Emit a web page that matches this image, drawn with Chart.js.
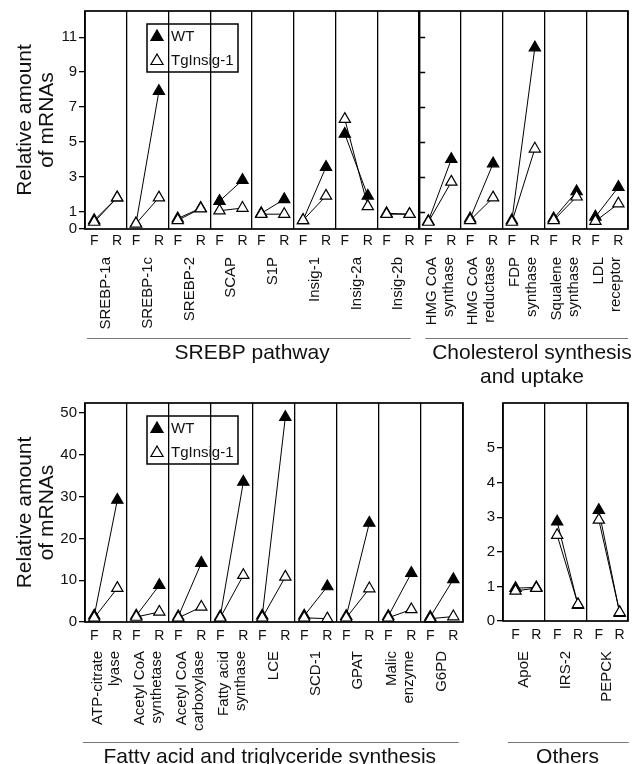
<!DOCTYPE html>
<html>
<head>
<meta charset="utf-8">
<script src="https://cdn.jsdelivr.net/npm/chart.js@4.4.1/dist/chart.umd.min.js"></script>
<style>
  html, body { margin: 0; padding: 0; background: #fff; }
  #wrap { position: relative; width: 641px; height: 764px; overflow: hidden; }
  canvas { position: absolute; }
</style>
</head>
<body>
<div id="wrap">
  <canvas id="topChart" width="641" height="390" style="left:0;top:0"></canvas>
  <canvas id="fatChart" width="480" height="374" style="left:0;top:390px"></canvas>
  <canvas id="otherChart" width="161" height="374" style="left:480px;top:390px"></canvas>
</div>
<script>
const FONT = "'Liberation Sans', Arial, Helvetica, sans-serif"
Chart.defaults.font.family = FONT
Chart.defaults.color = '#111'

// SREBP pathway + cholesterol synthesis (top)
const topGenes = ['SREBP-1a', 'SREBP-1c', 'SREBP-2', 'SCAP', 'S1P', 'Insig-1', 'Insig-2a', 'Insig-2b',
  ['HMG CoA', 'synthase'], ['HMG CoA', 'reductase'], ['FDP', 'synthase'], ['Squalene', 'synthase'], ['LDL', 'receptor']]
const topWtF = [0.5, 0.3, 0.6, 1.6, 0.9, 0.5, 5.45, 0.9, 0.45, 0.6, 0.5, 0.6, 0.7]
const topWtR = [1.8, 7.9, 1.2, 2.8, 1.7, 3.55, 1.9, 0.85, 4.0, 3.75, 10.4, 2.15, 2.4]
const topTgF = [0.4, 0.3, 0.5, 1.05, 0.85, 0.5, 6.3, 0.85, 0.4, 0.5, 0.4, 0.5, 0.45]
const topTgR = [1.8, 1.8, 1.17, 1.2, 0.85, 1.9, 1.3, 0.85, 2.7, 1.8, 4.6, 1.85, 1.45]
const topTicks = [0, 1, 3, 5, 7, 9, 11]

// fatty acid and triglyceride synthesis (bottom left)
const fatGenes = [['ATP-citrate', 'lyase'], ['Acetyl CoA', 'synthetase'], ['Acetyl CoA', 'carboxylase'],
  ['Fatty acid', 'synthase'], 'LCE', 'SCD-1', 'GPAT', ['Malic', 'enzyme'], 'G6PD']
const fatWtF = [1.5, 1.5, 1.3, 1.3, 1.5, 1.5, 1.4, 1.4, 1.2]
const fatWtR = [29.2, 8.8, 14.1, 33.5, 49, 8.5, 23.7, 11.7, 10.2]
const fatTgF = [1, 1.2, 1, 1, 1, 1, 1, 1, 0.8]
const fatTgR = [8.1, 2.4, 3.6, 11.2, 10.8, 0.8, 8, 3.0, 1.3]
const fatTicks = [0, 10, 20, 30, 40, 50]

// others (bottom right)
const otherGenes = ['ApoE', 'IRS-2', 'PEPCK']
const otherWtF = [0.95, 2.87, 3.2]
const otherWtR = [0.97, 0.46, 0.23]
const otherTgF = [0.87, 2.48, 2.92]
const otherTgR = [0.95, 0.48, 0.25]
const otherTicks = [0, 1, 2, 3, 4, 5]

function pairs (f, r, at) {
  const pts = []
  f.forEach((v, i) => {
    pts.push({ x: i + at[0], y: v }, { x: i + at[1], y: r[i] }, { x: i + 0.97, y: null })
  })
  return pts
}

function deco (o) {
  return {
    id: 'deco',
    afterDraw (chart) {
      const { ctx, chartArea: a, scales: { x, y } } = chart
      ctx.save()
      ctx.strokeStyle = '#000'
      ctx.lineWidth = 1.7
      ctx.strokeRect(a.left, a.top, a.right - a.left, a.bottom - a.top)

      // tick marks on the inner axis of the cholesterol block
      if (o.innerAxis != null) {
        const px = x.getPixelForValue(o.innerAxis)
        ctx.lineWidth = 1.3
        ctx.beginPath()
        o.yTicks.forEach(v => {
          if (!v) return
          const py = Math.round(y.getPixelForValue(v)) + 0.5
          ctx.moveTo(px, py)
          ctx.lineTo(px + 6, py)
        })
        ctx.stroke()
      }

      // gene names, rotated
      ctx.fillStyle = '#111'
      ctx.font = '15px ' + FONT
      ctx.textAlign = 'right'
      ctx.textBaseline = 'middle'
      o.genes.forEach((g, i) => {
        const lines = [].concat(g)
        ctx.save()
        ctx.translate(x.getPixelForValue(i + 0.5), a.bottom + o.nameDy)
        ctx.rotate(-Math.PI / 2)
        lines.forEach((t, j) => ctx.fillText(t, 0, (j - (lines.length - 1) / 2) * 17))
        ctx.restore()
      })

      // group brackets
      o.groups.forEach(g => {
        ctx.strokeStyle = '#777'
        ctx.lineWidth = 1
        ctx.beginPath()
        ctx.moveTo(x.getPixelForValue(g.from), a.bottom + o.lineDy + 0.5)
        ctx.lineTo(x.getPixelForValue(g.to), a.bottom + o.lineDy + 0.5)
        ctx.stroke()
        ctx.fillStyle = '#111'
        ctx.font = '21px ' + FONT
        ctx.textAlign = 'center'
        g.text.forEach((t, j) => ctx.fillText(t, x.getPixelForValue(g.mid), a.bottom + o.textDy + j * 24))
      })

      // legend box
      if (o.legend) {
        const bx = a.left + 62
        const by = a.top + 13
        ctx.strokeStyle = '#000'
        ctx.lineWidth = 1.5
        ctx.strokeRect(bx, by, 91, 48)
        ctx.font = '15px ' + FONT
        ctx.textAlign = 'left'
        chart.data.datasets.forEach((ds, k) => {
          const cy = by + 12 + k * 24
          ctx.fillStyle = ds.pointBackgroundColor
          ctx.strokeStyle = ds.pointBorderColor
          ctx.lineWidth = ds.pointBorderWidth
          Chart.helpers.drawPoint(ctx, { pointStyle: 'triangle', radius: 7, rotation: 0, borderWidth: ds.pointBorderWidth }, bx + 10, cy + 1)
          ctx.fillStyle = '#111'
          ctx.fillText(ds.label, bx + 24, cy + 1)
        })
      }
      ctx.restore()
    }
  }
}

function makeChart (id, o) {
  const n = o.genes.length
  const series = (label, f, r, fill, order) => ({
    label,
    data: pairs(f, r, o.at),
    borderColor: '#000',
    borderWidth: 1,
    pointStyle: 'triangle',
    pointRadius: 6.5,
    pointBorderWidth: 1.2,
    pointBackgroundColor: fill,
    pointBorderColor: '#000',
    spanGaps: false,
    clip: false,
    order
  })
  return new Chart(document.getElementById(id), {
    type: 'line',
    data: {
      datasets: [
        series('WT', o.wtF, o.wtR, '#000', 2),
        series('TgInsig-1', o.tgF, o.tgR, '#fff', 1)
      ]
    },
    options: {
      responsive: false,
      animation: false,
      events: [],
      layout: { padding: o.pad },
      plugins: { legend: { display: false }, tooltip: { enabled: false } },
      scales: {
        x: {
          type: 'linear',
          position: 'bottom',
          min: 0,
          max: n,
          afterBuildTicks: s => { s.ticks = Array.from({ length: n + 1 }, (_, i) => ({ value: i })) },
          ticks: { display: false },
          grid: {
            color: '#000',
            lineWidth: c => (c.tick && c.tick.value === o.innerAxis ? 2.4 : 1.3),
            drawTicks: false
          },
          border: { display: false },
          afterFit: s => { s.height = 0 }
        },
        fr: {
          axis: 'x',
          type: 'linear',
          position: 'bottom',
          min: 0,
          max: n,
          afterBuildTicks: s => {
            const t = []
            for (let i = 0; i < n; i++) t.push({ value: i + o.at[0] }, { value: i + o.at[1] })
            s.ticks = t
          },
          ticks: {
            autoSkip: false,
            maxRotation: 0,
            padding: o.frPad,
            color: '#111',
            font: { size: 14 },
            callback: (v, i) => (i % 2 ? 'R' : 'F')
          },
          grid: { display: false, drawTicks: false },
          border: { display: false },
          afterFit: s => { s.height = o.frHeight }
        },
        y: {
          min: 0,
          max: o.yMax,
          afterBuildTicks: s => { s.ticks = o.yTicks.map(v => ({ value: v })) },
          ticks: { color: '#111', font: { size: 15 }, padding: 2 },
          grid: { drawOnChartArea: false, color: '#000', lineWidth: 1.3, tickLength: 6 },
          border: { display: false },
          title: {
            display: o.title,
            text: ['Relative amount', 'of mRNAs'],
            color: '#111',
            font: { size: 21, lineHeight: 1.05 },
            padding: { top: 14, bottom: 0 }
          },
          afterFit: s => { s.width = o.yWidth }
        }
      }
    },
    plugins: [deco(o)]
  })
}

makeChart('topChart', {
  genes: topGenes, wtF: topWtF, wtR: topWtR, tgF: topTgF, tgR: topTgR,
  yMax: 12.5, yTicks: topTicks, yWidth: 85, title: true, legend: true,
  pad: { top: 11, right: 13, left: 0, bottom: 139 },
  at: [0.22, 0.77], frPad: 4, frHeight: 22, innerAxis: 8,
  nameDy: 28, lineDy: 109, textDy: 124,
  groups: [
    { from: 0.05, to: 7.8, mid: 4, text: ['SREBP pathway'] },
    { from: 8.15, to: 13, mid: 10.7, text: ['Cholesterol synthesis', 'and uptake'] }
  ]
})

makeChart('fatChart', {
  genes: fatGenes, wtF: fatWtF, wtR: fatWtR, tgF: fatTgF, tgR: fatTgR,
  yMax: 52.4, yTicks: fatTicks, yWidth: 85, title: true, legend: true,
  pad: { top: 13, right: 17, left: 0, bottom: 118 },
  at: [0.22, 0.77], frPad: 6, frHeight: 24, innerAxis: null,
  nameDy: 29, lineDy: 120, textDy: 135,
  groups: [
    { from: -0.05, to: 8.9, mid: 4.4, text: ['Fatty acid and triglyceride synthesis'] }
  ]
})

makeChart('otherChart', {
  genes: otherGenes, wtF: otherWtF, wtR: otherWtR, tgF: otherTgF, tgR: otherTgR,
  yMax: 6.3, yTicks: otherTicks, yWidth: 23, title: false, legend: false,
  pad: { top: 13, right: 13, left: 0, bottom: 119 },
  at: [0.3, 0.8], frPad: 6, frHeight: 24, innerAxis: null,
  nameDy: 30, lineDy: 121, textDy: 136,
  groups: [
    { from: 0.12, to: 3.02, mid: 1.55, text: ['Others'] }
  ]
})
</script>
</body>
</html>
